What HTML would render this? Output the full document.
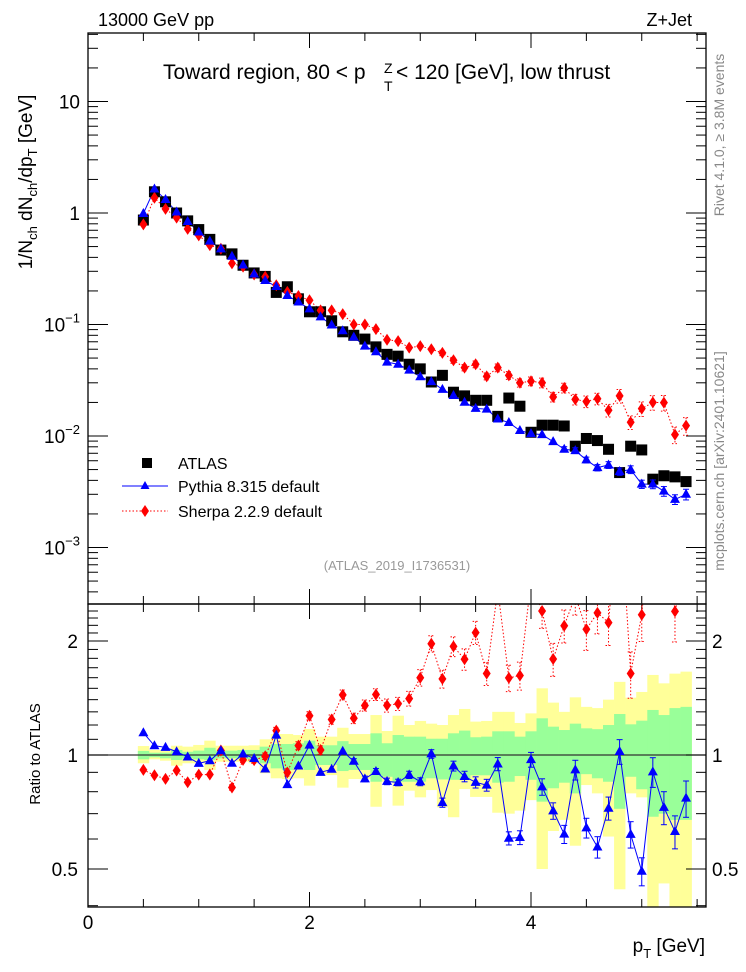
<!DOCTYPE html>
<html><head><meta charset="utf-8"><title>Z+Jet toward region</title>
<style>
html,body{margin:0;padding:0;background:#fff;}
svg{display:block;font-family:"Liberation Sans",Arial,sans-serif;}
</style></head>
<body>
<svg id="chart" xmlns="http://www.w3.org/2000/svg" width="746" height="972" viewBox="0 0 746 972">
<defs>
<clipPath id="clipMain"><rect x="88" y="33" width="618" height="571"/></clipPath>
<clipPath id="clipRatio"><rect x="88" y="604" width="618" height="303"/></clipPath>
</defs>
<rect x="0" y="0" width="746" height="972" fill="#fff"/>
<g id="bands" clip-path="url(#clipRatio)"></g>
<line x1="88" y1="755" x2="706" y2="755" stroke="#333" stroke-width="1.2"/>
<g id="ticks"></g>
<g id="mainMarks" clip-path="url(#clipMain)"></g>
<g id="ratioMarks" clip-path="url(#clipRatio)"></g>
<rect x="88" y="33" width="618" height="571" fill="none" stroke="#000" stroke-width="1.3"/>
<rect x="88" y="604" width="618" height="303" fill="none" stroke="#000" stroke-width="1.3"/>

<text x="98" y="26" font-size="18">13000 GeV pp</text>
<text x="692" y="26" font-size="18" text-anchor="end">Z+Jet</text>
<text font-size="21" y="79"><tspan x="163" y="79">Toward region, 80 &lt; p</tspan><tspan x="384" y="73" font-size="14">Z</tspan><tspan x="384" y="91" font-size="14">T</tspan><tspan x="396" y="79">&lt; 120 [GeV], low thrust</tspan></text>
<text transform="translate(32,182) rotate(-90)" font-size="19" text-anchor="middle">1/N<tspan font-size="13" dy="5">ch</tspan><tspan dy="-5"> dN</tspan><tspan font-size="13" dy="5">ch</tspan><tspan dy="-5">/dp</tspan><tspan font-size="13" dy="5">T</tspan><tspan dy="-5"> [GeV]</tspan></text>
<text transform="translate(40,754) rotate(-90)" font-size="15" text-anchor="middle">Ratio to ATLAS</text>
<text transform="translate(724,135) rotate(-90)" font-size="14" fill="#888" text-anchor="middle">Rivet 4.1.0, ≥ 3.8M events</text>
<text transform="translate(724,461) rotate(-90)" font-size="14" fill="#888" text-anchor="middle">mcplots.cern.ch [arXiv:2401.10621]</text>
<text x="397" y="570" font-size="13" fill="#999" text-anchor="middle">(ATLAS_2019_I1736531)</text>
<text x="705" y="952" font-size="19" text-anchor="end">p<tspan font-size="13" dy="6">T</tspan><tspan dy="-6"> [GeV]</tspan></text>

<g id="legend">
 <g>
  <rect x="142" y="458" width="10" height="10" fill="#000"/>
  <text x="178" y="469" font-size="16">ATLAS</text>
 </g>
 <g>
  <line x1="122" y1="486" x2="168" y2="486" stroke="#00f" stroke-width="1"/>
  <polygon points="145,481 149.5,489 140.5,489" fill="#00f"/>
  <text x="178" y="492" font-size="16">Pythia 8.315 default</text>
 </g>
 <g>
  <line x1="122" y1="511" x2="168" y2="511" stroke="#f00" stroke-width="1" stroke-dasharray="1.5,2"/>
  <polygon points="145,505 149,511 145,517 141,511" fill="#f00"/>
  <text x="178" y="517" font-size="16">Sherpa 2.2.9 default</text>
 </g>
</g>
</svg>
<script>
// ---- data ----
const pT = [0.5,0.6,0.7,0.8,0.9,1.0,1.1,1.2,1.3,1.4,1.5,1.6,1.7,1.8,1.9,2.0,2.1,2.2,2.3,2.4,2.5,2.6,2.7,2.8,2.9,3.0,3.1,3.2,3.3,3.4,3.5,3.6,3.7,3.8,3.9,4.0,4.1,4.2,4.3,4.4,4.5,4.6,4.7,4.8,4.9,5.0,5.1,5.2,5.3,5.4];
const atlas = [0.865,1.55,1.26,1.0,0.85,0.71,0.58,0.465,0.43,0.34,0.29,0.27,0.194,0.218,0.17,0.13,0.13,0.108,0.086,0.080,0.074,0.063,0.054,0.052,0.044,0.040,0.0305,0.035,0.0247,0.0229,0.0209,0.0209,0.015,0.0219,0.0185,0.0108,0.0125,0.0125,0.0123,0.0081,0.0095,0.0091,0.0076,0.0047,0.0081,0.0075,0.0041,0.0044,0.0043,0.0039];
const pythia = [0.99,1.64,1.32,1.02,0.84,0.675,0.56,0.477,0.409,0.342,0.284,0.248,0.219,0.182,0.159,0.138,0.117,0.099,0.088,0.077,0.064,0.057,0.046,0.044,0.039,0.034,0.0307,0.0262,0.0231,0.0201,0.0177,0.0174,0.0142,0.0132,0.0112,0.0105,0.0103,0.0089,0.0076,0.0074,0.0061,0.0052,0.0055,0.0048,0.0050,0.0037,0.0037,0.0032,0.0027,0.0030];
const sherpa = [0.79,1.37,1.09,0.91,0.72,0.63,0.515,0.478,0.353,0.33,0.281,0.268,0.225,0.196,0.18,0.165,0.134,0.134,0.124,0.10,0.10,0.091,0.073,0.071,0.062,0.064,0.06,0.0556,0.0478,0.041,0.044,0.0343,0.041,0.035,0.030,0.031,0.030,0.0224,0.027,0.0213,0.0204,0.0216,0.017,0.0229,0.0133,0.0176,0.020,0.0199,0.0103,0.0124];
const pythiaRelErr = [0.005,0.005,0.005,0.005,0.006,0.006,0.007,0.007,0.008,0.008,0.009,0.01,0.01,0.011,0.012,0.012,0.013,0.014,0.015,0.016,0.017,0.018,0.02,0.02,0.022,0.024,0.026,0.028,0.03,0.032,0.034,0.036,0.04,0.04,0.042,0.045,0.05,0.05,0.055,0.06,0.06,0.065,0.07,0.075,0.08,0.085,0.09,0.1,0.1,0.11];
const sherpaRelErr = [0.01,0.01,0.01,0.01,0.012,0.012,0.014,0.014,0.016,0.016,0.018,0.02,0.02,0.022,0.024,0.025,0.026,0.028,0.03,0.032,0.034,0.036,0.04,0.04,0.045,0.05,0.05,0.055,0.06,0.065,0.07,0.07,0.08,0.08,0.085,0.09,0.1,0.1,0.1,0.11,0.12,0.12,0.13,0.14,0.14,0.15,0.15,0.16,0.17,0.18];
const yellowUp = [1.056,1.031,1.031,1.058,1.052,1.063,1.091,1.058,1.058,1.058,1.061,1.10,1.136,1.136,1.129,1.171,1.118,1.118,1.18,1.136,1.136,1.275,1.157,1.27,1.2,1.23,1.21,1.2,1.275,1.323,1.225,1.23,1.30,1.30,1.215,1.288,1.50,1.375,1.30,1.42,1.34,1.33,1.40,1.56,1.417,1.467,1.627,1.546,1.64,1.66];
const yellowLo = [0.951,0.974,0.966,0.937,0.951,0.951,0.913,0.96,0.96,0.96,0.951,0.895,0.868,0.864,0.868,0.83,0.885,0.885,0.82,0.864,0.864,0.73,0.85,0.735,0.805,0.773,0.808,0.727,0.685,0.813,0.775,0.775,0.704,0.70,0.713,0.76,0.50,0.63,0.674,0.576,0.833,0.792,0.609,0.442,0.792,0.773,0.39,0.458,0.39,0.39];
const greenUp = [1.025,1.014,1.014,1.031,1.02,1.027,1.045,1.027,1.027,1.031,1.031,1.052,1.069,1.069,1.074,1.091,1.061,1.061,1.088,1.069,1.069,1.141,1.074,1.129,1.118,1.118,1.104,1.104,1.141,1.16,1.114,1.118,1.155,1.155,1.118,1.155,1.25,1.188,1.164,1.21,1.176,1.17,1.2,1.283,1.205,1.232,1.315,1.275,1.33,1.34];
const greenLo = [0.974,0.986,0.98,0.97,0.98,0.974,0.97,0.98,0.98,0.976,0.974,0.951,0.922,0.913,0.922,0.913,0.941,0.941,0.907,0.913,0.913,0.85,0.876,0.85,0.85,0.85,0.868,0.862,0.86,0.862,0.884,0.884,0.845,0.85,0.88,0.86,0.753,0.817,0.845,0.792,0.89,0.868,0.85,0.721,0.876,0.812,0.687,0.70,0.674,0.674];
const xTicks = [0,2,4];
const mainTickLabels = [["10",""],["1",""],["10","−1"],["10","−2"],["10","−3"]];
const mainTickValues = [10,1,0.1,0.01,0.001];
const ratioTickValues = [2,1,0.5];
const ratioTickLabels = ["2","1","0.5"];

// ---- axes ----
const NS = "http://www.w3.org/2000/svg";
const X = p => 88 + 110.75 * p;
const Ym = v => 213 - 111.5 * Math.log10(v);
const Yr = r => 755 - 114 * Math.log2(r);
function mk(tag, attrs, parent){
  const e = document.createElementNS(NS, tag);
  for (const k in attrs) e.setAttribute(k, attrs[k]);
  parent.appendChild(e);
  return e;
}
const ticks = document.getElementById('ticks');
const bands = document.getElementById('bands');
const mainG = document.getElementById('mainMarks');
const ratioG = document.getElementById('ratioMarks');
const svg = document.getElementById('chart');

for (let k = 0; k <= 11; k++) {
  const p = k * 0.5, x = X(p);
  if (x > 706) break;
  const major = (k % 4 === 0);
  const L = major ? 15 : 8;
  [[33,1],[604,-1],[604,1],[907,-1]].forEach(([y0,d]) => {
    const t = mk('line', {x1:x, x2:x, y1:y0, y2:y0 + d*L, stroke:'#000', 'stroke-width':1}, ticks);
    
    
  });
}
xTicks.forEach(v => {
  const t = mk('text', {x:X(v), y:929, 'font-size':19, 'text-anchor':'middle'}, svg);
  t.textContent = String(v);
  
  
});
for (let e = -4; e <= 1; e++) {
  for (let m = 1; m <= 9; m++) {
    const v = m * Math.pow(10, e), y = Ym(v);
    if (y < 33 || y > 604) continue;
    const L = m === 1 ? 20 : 10;
    [[88,1],[706,-1]].forEach(([x0,d]) => {
      const t = mk('line', {x1:x0, x2:x0 + d*L, y1:y, y2:y, stroke:'#000', 'stroke-width':1}, ticks);
      
      
    });
  }
}
mainTickValues.forEach((v, i) => {
  const t = mk('text', {x:80, y:Ym(v) + 7, 'font-size':19, 'text-anchor':'end'}, svg);
  
  
  if (mainTickLabels[i][1]) {
    const a = mk('tspan', {}, t); a.textContent = mainTickLabels[i][0];
    const b = mk('tspan', {'font-size':13, dy:-9}, t); b.textContent = mainTickLabels[i][1];
  } else t.textContent = mainTickLabels[i][0];
});
for (let k = 4; k <= 24; k++) {
  const r = k / 10, y = Yr(r);
  if (y < 604 || y > 907) continue;
  const L = (k === 5 || k === 10 || k === 20) ? 20 : 10;
  [[88,1],[706,-1]].forEach(([x0,d]) => {
    const t = mk('line', {x1:x0, x2:x0 + d*L, y1:y, y2:y, stroke:'#000', 'stroke-width':1}, ticks);
    
    
  });
}
ratioTickValues.forEach((v, i) => {
  [[78,'end'],[712,'start']].forEach(([x,a]) => {
    const t = mk('text', {x:x, y:Yr(v) + 7, 'font-size':19, 'text-anchor':a}, svg);
    t.textContent = ratioTickLabels[i];
    
    
  });
});

pT.forEach((p, i) => {
  const x0 = X(p - 0.05), w = X(p + 0.05) - x0;
  const yb = mk('rect', {x:x0, y:Yr(yellowUp[i]), width:w + 0.3, height:Yr(yellowLo[i]) - Yr(yellowUp[i]), fill:'#ffff99'}, bands);
  
  
});
pT.forEach((p, i) => {
  const x0 = X(p - 0.05), w = X(p + 0.05) - x0;
  const gb = mk('rect', {x:x0, y:Yr(greenUp[i]), width:w + 0.3, height:Yr(greenLo[i]) - Yr(greenUp[i]), fill:'#99ff99'}, bands);
  
  
});

function tri(g, x, y, name){
  const t = mk('polygon', {points:`${x},${y-5.5} ${x+5},${y+3.5} ${x-5},${y+3.5}`, fill:'#00f'}, g);
  
  
}
function dia(g, x, y, name){
  const t = mk('polygon', {points:`${x},${y-6} ${x+4},${y} ${x},${y+6} ${x-4},${y}`, fill:'#f00'}, g);
  
  
}
function errbar(g, x, y1, y2, col, dash){
  const a = {x1:x, x2:x, y1:y1, y2:y2, stroke:col, 'stroke-width':1};
  if (dash) a['stroke-dasharray'] = '1.5,2';
  const l = mk('line', a, g);
  
  
  [y1, y2].forEach(yy => {
    const c = mk('line', {x1:x-3, x2:x+3, y1:yy, y2:yy, stroke:col, 'stroke-width':1}, g);
    if (dash) c.setAttribute('stroke-dasharray', '1.5,2');
    
    
  });
}
const pyLine = mk('polyline', {points:pT.map((p,i)=>X(p)+','+Ym(pythia[i])).join(' '), fill:'none', stroke:'#00f', 'stroke-width':1}, mainG);


const shLine = mk('polyline', {points:pT.map((p,i)=>X(p)+','+Ym(sherpa[i])).join(' '), fill:'none', stroke:'#f00', 'stroke-width':1, 'stroke-dasharray':'1.5,2'}, mainG);


pT.forEach((p, i) => {
  const x = X(p);
  const sq = mk('rect', {x:x-5.5, y:Ym(atlas[i])-5.5, width:11, height:11, fill:'#000'}, mainG);
  
  
  if (sherpaRelErr[i] > 0.05) errbar(mainG, x, Ym(sherpa[i]*(1+sherpaRelErr[i])), Ym(sherpa[i]*(1-sherpaRelErr[i])), '#f00', true);
  dia(mainG, x, Ym(sherpa[i]), 'sherpa-point');
  if (pythiaRelErr[i] > 0.05) errbar(mainG, x, Ym(pythia[i]*(1+pythiaRelErr[i])), Ym(pythia[i]*(1-pythiaRelErr[i])), '#00f', false);
  tri(mainG, x, Ym(pythia[i]), 'pythia-point');
});
const pyR = pT.map((p,i) => pythia[i] / atlas[i]);
const shR = pT.map((p,i) => sherpa[i] / atlas[i]);
const prl = mk('polyline', {points:pT.map((p,i)=>X(p)+','+Yr(pyR[i])).join(' '), fill:'none', stroke:'#00f', 'stroke-width':1}, ratioG);


const srl = mk('polyline', {points:pT.map((p,i)=>X(p)+','+Yr(shR[i])).join(' '), fill:'none', stroke:'#f00', 'stroke-width':1, 'stroke-dasharray':'1.5,2'}, ratioG);


pT.forEach((p, i) => {
  const x = X(p);
  if (sherpaRelErr[i] > 0.015) errbar(ratioG, x, Yr(shR[i]*(1+sherpaRelErr[i])), Yr(shR[i]*(1-sherpaRelErr[i])), '#f00', true);
  dia(ratioG, x, Yr(shR[i]), 'sherpa-ratio-point');
  if (pythiaRelErr[i] > 0.015) errbar(ratioG, x, Yr(pyR[i]*(1+pythiaRelErr[i])), Yr(pyR[i]*(1-pythiaRelErr[i])), '#00f', false);
  tri(ratioG, x, Yr(pyR[i]), 'pythia-ratio-point');
});
</script>
</body></html>
